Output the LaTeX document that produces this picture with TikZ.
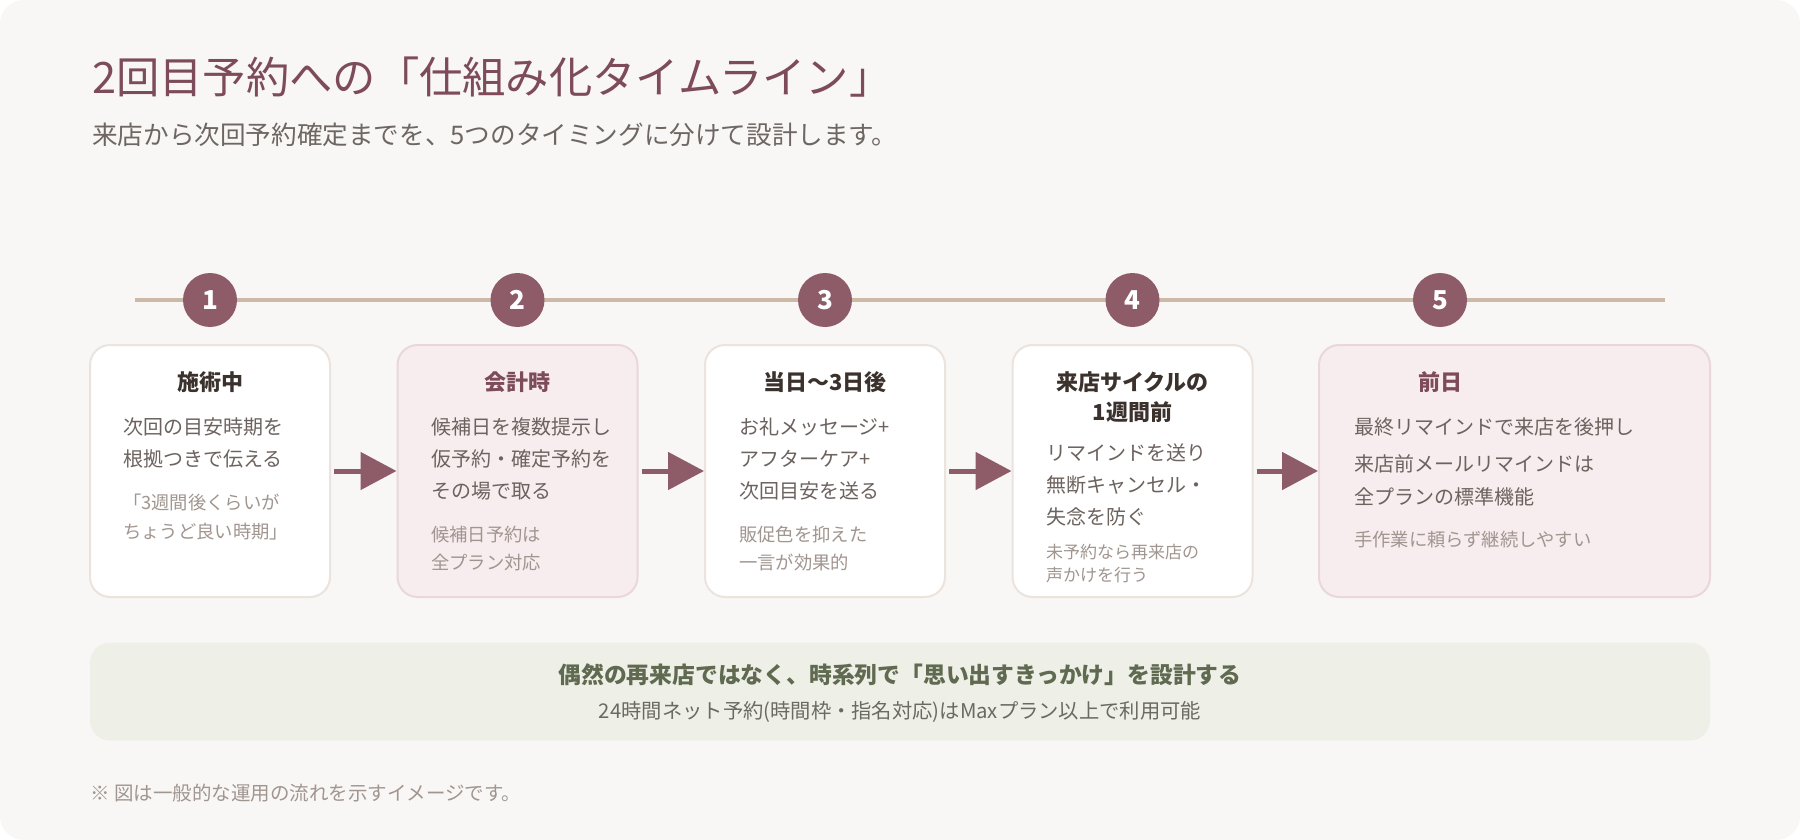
\documentclass[tikz,border=0pt]{standalone}
\usepackage{fontspec}
\setmainfont{Noto Sans CJK JP}
\usepackage{xcolor}
\usepackage{tikz}
\usetikzlibrary{arrows.meta,positioning,calc}
\definecolor{pagebg}{HTML}{F8F7F5}
\definecolor{plum}{HTML}{8E5B69}
\definecolor{titlecol}{HTML}{7D4B5B}
\definecolor{subcol}{HTML}{6E6662}
\definecolor{tline}{HTML}{CDBAA6}
\definecolor{cardline}{HTML}{ECE3DD}
\definecolor{pinkbg}{HTML}{F7EDEF}
\definecolor{pinkline}{HTML}{E9D7DC}
\definecolor{headdark}{HTML}{3B322E}
\definecolor{bodytxt}{HTML}{6C625E}
\definecolor{notetxt}{HTML}{A1958F}
\definecolor{bandbg}{HTML}{EEF0E8}
\definecolor{bandtxt}{HTML}{5F6A50}
\definecolor{bandsub}{HTML}{6B6A60}

\begin{document}
\begin{tikzpicture}[x=1pt,y=-1pt,>=Latex,
  num/.style={circle,fill=plum,text=white,minimum size=54pt,inner sep=0pt,font=\fontsize{26}{26}\selectfont\bfseries},
  card/.style={draw=cardline,line width=2pt,fill=white,rounded corners=20pt,minimum width=240pt,minimum height=252pt},
  pinkcard/.style={card,draw=pinkline,fill=pinkbg},
  head/.style={inner sep=0pt,align=center,text=headdark,font=\fontsize{22}{30}\selectfont\bfseries},
  body/.style={anchor=west,inner sep=0pt,align=left,text=bodytxt,font=\fontsize{20}{32}\selectfont},
  note/.style={anchor=west,inner sep=0pt,align=left,text=notetxt,font=\fontsize{18.3}{29}\selectfont},
  flow/.style={-{Triangle[length=36pt,width=37pt]},line width=5pt,draw=plum}]
\fill[white] (0,0) rectangle (1800,840);
\fill[pagebg,rounded corners=24pt] (0,0) rectangle (1800,840);
\node[anchor=west,inner sep=0pt,text=titlecol,font=\fontsize{43.3}{43}\selectfont] (title) at (92,77) {2回目予約への「仕組み化タイムライン」};
\node[anchor=west,inner sep=0pt,text=subcol,font=\fontsize{25.6}{26}\selectfont] (sub) at (92,135) {来店から次回予約確定までを、5つのタイミングに分けて設計します。};
\draw[line width=4pt,tline] (135,300) -- (1665,300);
\node[num] (n1) at (210,300) {1};
\node[num] (n2) at (517.5,300) {2};
\node[num] (n3) at (825,300) {3};
\node[num] (n4) at (1132.5,300) {4};
\node[num] (n5) at (1440,300) {5};
\node[card] (c1) at (210,471) {};
\node[pinkcard] (c2) at (517.5,471) {};
\node[card] (c3) at (825,471) {};
\node[card] (c4) at (1132.5,471) {};
\node[pinkcard,minimum width=391pt] (c5) at (1514.5,471) {};
\draw[flow] ([xshift=3pt]c1.east) -- (c2.west);
\draw[flow] ([xshift=3pt]c2.east) -- (c3.west);
\draw[flow] ([xshift=3pt]c3.east) -- (c4.west);
\draw[flow] ([xshift=3pt]c4.east) -- (c5.west);
\node[head] (h1) at (210,382) {施術中};
\node[body] (b1) at (123,443) {次回の目安時期を\\根拠つきで伝える};
\node[note] (m1) at (123,517.5) {「3週間後くらいが\\ちょうど良い時期」};
\node[head,text=titlecol] (h2) at (517.5,382) {会計時};
\node[body] (b2) at (431,458.5) {候補日を複数提示し\\仮予約・確定予約を\\その場で取る};
\node[note,font=\fontsize{18.3}{28}\selectfont] (m2) at (431,549) {候補日予約は\\全プラン対応};
\node[head] (h3) at (825,382) {当日〜3日後};
\node[body] (b3) at (739,458.5) {お礼メッセージ+\\アフターケア+\\次回目安を送る};
\node[note,font=\fontsize{18.3}{28}\selectfont] (m3) at (739,549) {販促色を抑えた\\一言が効果的};
\node[head] (h4) at (1132.5,397) {来店サイクルの\\1週間前};
\node[body] (b4) at (1046,485) {リマインドを送り\\無断キャンセル・\\失念を防ぐ};
\node[note,font=\fontsize{17}{23}\selectfont] (m4) at (1046,563.5) {未予約なら再来店の\\声かけを行う};
\node[head,text=titlecol] (h5) at (1440,382) {前日};
\node[body] (b5) at (1354,427) {最終リマインドで来店を後押し};
\node[body,font=\fontsize{20}{33}\selectfont] (b5b) at (1354,480.5) {来店前メールリマインドは\\全プランの標準機能};
\node[note] (m5) at (1354,540) {手作業に頼らず継続しやすい};
\node[fill=bandbg,rounded corners=20pt,minimum width=1620pt,minimum height=98pt] (band) at (900,691.5) {};
\node[inner sep=0pt,text=bandtxt,font=\fontsize{22.8}{23}\selectfont\bfseries] (msg) at (900,675) {偶然の再来店ではなく、時系列で「思い出すきっかけ」を設計する};
\node[inner sep=0pt,text=bandsub,font=\fontsize{20.3}{20}\selectfont] (plan) at (900,712) {24時間ネット予約(時間枠・指名対応)はMaxプラン以上で利用可能};
\node[anchor=west,inner sep=0pt,text=notetxt,font=\fontsize{19.5}{19}\selectfont] (foot) at (90,793) {※ 図は一般的な運用の流れを示すイメージです。};
\end{tikzpicture}
\end{document}
